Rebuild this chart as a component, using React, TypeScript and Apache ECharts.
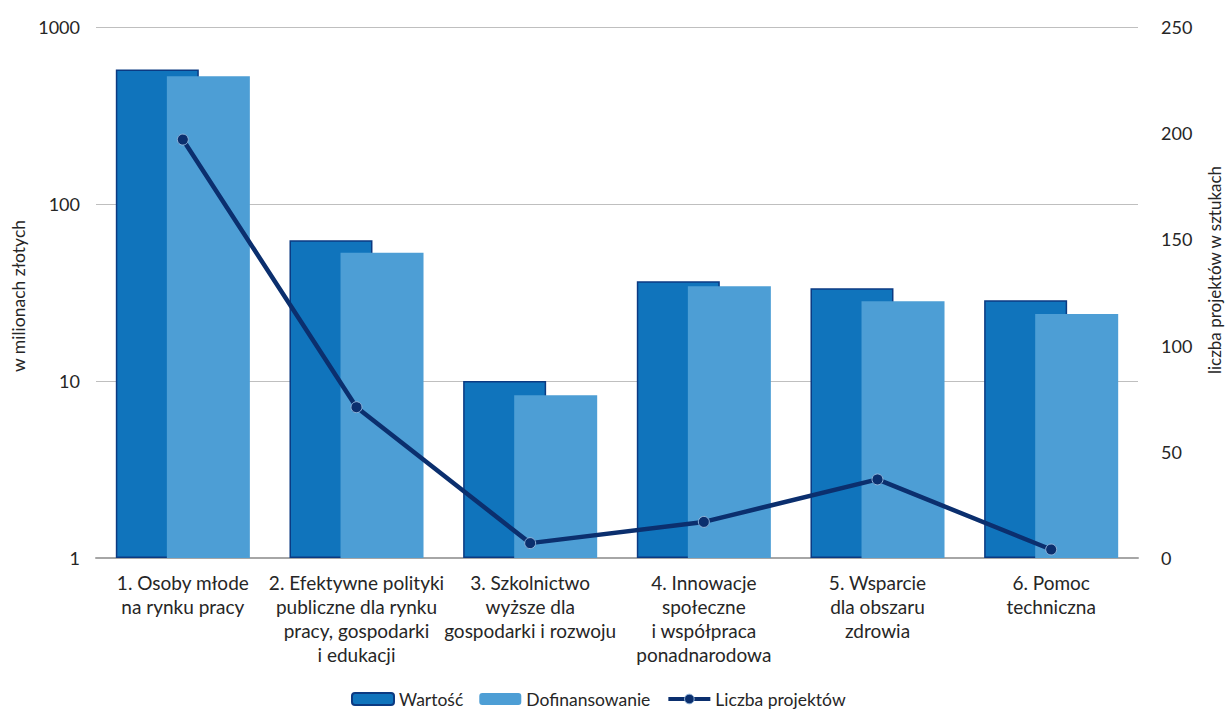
import React, { useEffect, useRef } from "react";
import * as echarts from "echarts";

const categories = [
  "1. Osoby młode\nna rynku pracy",
  "2. Efektywne polityki\npubliczne dla rynku\npracy, gospodarki\ni edukacji",
  "3. Szkolnictwo\nwyższe dla\ngospodarki i rozwoju",
  "4. Innowacje\nspołeczne\ni współpraca\nponadnarodowa",
  "5. Wsparcie\ndla obszaru\nzdrowia",
  "6. Pomoc\ntechniczna",
];
const wartosc = [575, 62.4, 10, 36.6, 33.4, 28.6];
const dofinansowanie = [527, 53, 8.3, 34.3, 28.2, 23.9];
const liczbaProjektow = [197, 71, 7, 17, 37, 4];
const leftTitle = "w milionach złotych";
const rightTitle = "liczba projektów w sztukach";

const FONT = "Lato, 'Open Sans', sans-serif";
const TXT = "#262626";

export default function App() {
  const ref = useRef<HTMLDivElement>(null);
  useEffect(() => {
    if (!ref.current) return;
    const chart = echarts.init(ref.current, null, { renderer: "svg" });
    chart.setOption({
      animation: false,
      textStyle: { fontFamily: FONT },
      grid: { left: 96, top: 27, width: 1042, height: 531, containLabel: false },
      legend: {
        top: 685,
        left: 346,
        itemWidth: 42,
        itemHeight: 12,
        itemGap: 16,
        textStyle: { fontSize: 17.5, color: TXT, fontFamily: FONT, lineHeight: 18 },
        data: [
          { name: "Wartość" },
          { name: "Dofinansowanie" },
          {
            name: "Liczba projektów",
            lineStyle: { width: 4, color: "#0B2F6E" },
            itemStyle: { color: "#0B2F6E", borderColor: "#8FB3DA", borderWidth: 1 },
          },
        ],
      },
      xAxis: {
        type: "category",
        data: categories,
        axisTick: { show: false },
        axisLine: { lineStyle: { color: "#A6A6A6", width: 2 } },
        axisLabel: {
          interval: 0,
          margin: 12,
          fontSize: 19,
          lineHeight: 24,
          color: TXT,
          fontFamily: FONT,
        },
      },
      yAxis: [
        {
          type: "log",
          logBase: 10,
          min: 1,
          max: 1000,
          axisLine: { show: false },
          axisTick: { show: false },
          splitLine: { lineStyle: { color: "#BFBFBF", width: 1 } },
          axisLabel: {
            margin: 16,
            fontSize: 18,
            color: TXT,
            fontFamily: FONT,
            formatter: (v: number) => String(Math.round(v)),
          },
        },
        {
          type: "value",
          min: 0,
          max: 250,
          interval: 50,
          axisLine: { show: false },
          axisTick: { show: false },
          splitLine: { show: false },
          axisLabel: { margin: 23, fontSize: 18, color: TXT, fontFamily: FONT },
        },
      ],
      graphic: [
        {
          type: "text",
          x: 18,
          y: 296,
          rotation: Math.PI / 2,
          style: {
            text: leftTitle,
            fill: TXT,
            font: `17.5px ${FONT}`,
            textAlign: "center",
            textVerticalAlign: "middle",
          },
        },
        {
          type: "text",
          x: 1214,
          y: 270,
          rotation: Math.PI / 2,
          style: {
            text: rightTitle,
            fill: TXT,
            font: `17px ${FONT}`,
            textAlign: "center",
            textVerticalAlign: "middle",
          },
        },
      ],
      series: [
        {
          name: "Wartość",
          type: "bar",
          data: wartosc,
          barWidth: 83,
          barGap: "-38.5%",
          itemStyle: { color: "#1074BC", borderColor: "#0B3A82", borderWidth: 1.5 },
        },
        {
          name: "Dofinansowanie",
          type: "bar",
          data: dofinansowanie,
          barWidth: 83,
          itemStyle: { color: "#4D9ED5" },
        },
        {
          name: "Liczba projektów",
          type: "line",
          yAxisIndex: 1,
          data: liczbaProjektow,
          symbol: "circle",
          symbolSize: 11,
          lineStyle: { color: "#0B2F6E", width: 4.5 },
          itemStyle: { color: "#0B2F6E", borderColor: "#8FB3DA", borderWidth: 1 },
          z: 5,
        },
      ],
    });
    return () => chart.dispose();
  }, []);
  return (
    <div
      ref={ref}
      style={{ position: "fixed", left: 0, top: 0, width: 1225, height: 709, background: "#fff" }}
    />
  );
}
